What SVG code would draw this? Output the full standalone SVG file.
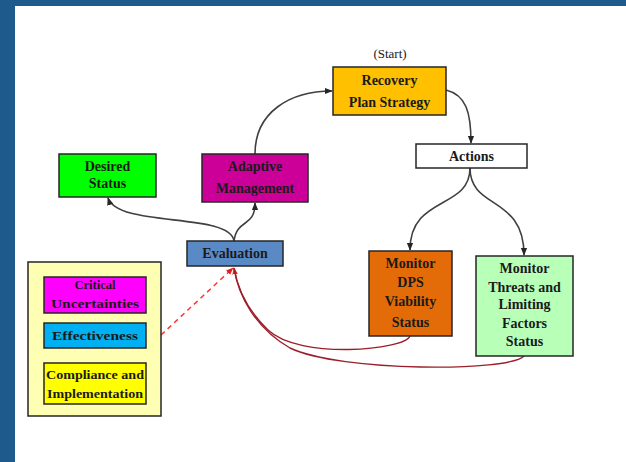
<svg xmlns="http://www.w3.org/2000/svg" width="626" height="462" viewBox="0 0 626 462">
<style>
.box{stroke:#262626;stroke-width:1.5}
.t{font-family:"Liberation Serif","Times New Roman",serif;font-weight:bold;font-size:14px;fill:#1a1a1a;text-anchor:middle}
.s{font-family:"Liberation Serif","Times New Roman",serif;font-weight:bold;font-size:12.5px;fill:#1a1a1a;text-anchor:middle}
.c{fill:none;stroke:#404040;stroke-width:1.6}
.r{fill:none;stroke:#9b1f2a;stroke-width:1.4}
</style>
<defs>
<marker id="a" viewBox="0 0 10 10" refX="9" refY="5" markerWidth="5" markerHeight="5" orient="auto-start-reverse"><path d="M0,1 L10,5 L0,9 z" fill="#262626"/></marker>
<marker id="ar" viewBox="0 0 10 10" refX="9" refY="5" markerWidth="5" markerHeight="5" orient="auto"><path d="M0,1 L10,5 L0,9 z" fill="#e02020"/></marker>
</defs>
<rect width="626" height="462" fill="#ffffff"/>
<rect x="0" y="0" width="626" height="6" fill="#1f5a8c"/>
<rect x="0" y="0" width="15" height="462" fill="#1f5a8c"/>

<g id="connectors">
<path class="c" d="M255,154 C255,112 290,91 332,91" marker-end="url(#a)"/>
<path class="c" d="M446,90 C466,95 471,112 471,143" marker-end="url(#a)"/>
<path class="c" d="M470,168 C470,210 410,195 410,250" marker-end="url(#a)"/>
<path class="c" d="M470,168 C470,210 524,195 524,255" marker-end="url(#a)"/>
<path class="c" d="M234,241 C230,212 118,228 108,198" marker-end="url(#a)"/>
<path class="c" d="M234,241 C237,218 255,228 255,203" marker-end="url(#a)"/>
<path fill="none" stroke="#ff3333" stroke-width="1.5" stroke-dasharray="5,4" d="M161,335 L233,268" marker-end="url(#ar)"/>
<path class="r" d="M410,336 C405,350 300,360 268,330 C245,308 237,285 234,268" marker-end="url(#ar)"/>
<path class="r" d="M524,356 C510,372 340,372 290,348 C255,328 238,295 234,268"/>
</g>

<text x="390" y="58" font-family="Liberation Serif,serif" font-size="13" fill="#1a1a1a" text-anchor="middle">(Start)</text>

<g id="recovery">
<rect class="box" x="333" y="67" width="113" height="48" fill="#ffc000"/>
<text class="t" x="389.5" y="85">Recovery</text>
<text class="t" x="389.5" y="107">Plan Strategy</text>
</g>
<g id="actions">
<rect class="box" x="416" y="144" width="111" height="24" fill="#ffffff"/>
<text class="t" x="471.5" y="161">Actions</text>
</g>
<g id="desired">
<rect class="box" x="59" y="154" width="97" height="43" fill="#00ff00"/>
<text class="t" x="107.5" y="171">Desired</text>
<text class="t" x="107.5" y="188">Status</text>
</g>
<g id="adaptive">
<rect class="box" x="202" y="154" width="106" height="48" fill="#cc0099"/>
<text class="t" x="255" y="171">Adaptive</text>
<text class="t" x="255" y="193">Management</text>
</g>
<g id="evaluation">
<rect class="box" x="187" y="241" width="96" height="25" fill="#5a8ac6"/>
<text class="t" x="235" y="258">Evaluation</text>
</g>
<g id="monitor-dps">
<rect class="box" x="369" y="251" width="83" height="85" fill="#e36c09"/>
<text class="t" x="410.5" y="268">Monitor</text>
<text class="t" x="410.5" y="287">DPS</text>
<text class="t" x="410.5" y="306">Viability</text>
<text class="t" x="410.5" y="327">Status</text>
</g>
<g id="monitor-threats">
<rect class="box" x="476" y="256" width="97" height="100" fill="#b8ffb8"/>
<text class="t" x="524.5" y="273">Monitor</text>
<text class="t" x="524.5" y="292">Threats and</text>
<text class="t" x="524.5" y="309">Limiting</text>
<text class="t" x="524.5" y="328">Factors</text>
<text class="t" x="524.5" y="346">Status</text>
</g>
<g id="container">
<rect class="box" x="28" y="262" width="133" height="154" fill="#ffffb3"/>
</g>
<g id="critical">
<rect class="box" x="44" y="277" width="102" height="36" fill="#ff00ff"/>
<text class="s" x="95" y="289">Critical</text>
<text class="s" x="95" y="308" textLength="88" lengthAdjust="spacingAndGlyphs">Uncertainties</text>
</g>
<g id="effectiveness">
<rect class="box" x="44" y="323" width="102" height="25" fill="#00b0f0"/>
<text class="s" x="95" y="340" textLength="86" lengthAdjust="spacingAndGlyphs">Effectiveness</text>
</g>
<g id="compliance">
<rect class="box" x="44" y="363" width="102" height="41" fill="#ffff00"/>
<text class="s" x="95" y="379" textLength="98" lengthAdjust="spacingAndGlyphs">Compliance and</text>
<text class="s" x="95" y="398" textLength="96" lengthAdjust="spacingAndGlyphs">Implementation</text>
</g>
</svg>
